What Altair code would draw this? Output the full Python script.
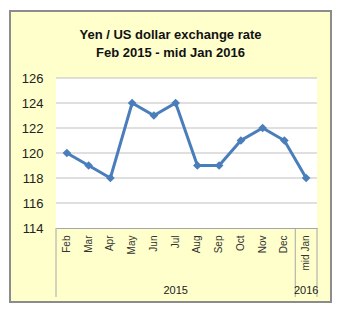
import altair as alt
import pandas as pd

months = ["Feb", "Mar", "Apr", "May", "Jun", "Jul", "Aug", "Sep", "Oct", "Nov", "Dec", "mid Jan"]
rates = [120, 119, 118, 124, 123, 124, 119, 119, 121, 122, 121, 118]
y_ticks = [114, 116, 118, 120, 122, 124, 126]
years = ["2015", "2016"]
year_centers = ["Jul", "mid Jan"]   # category under which each year label is centred
title_lines = ["Yen / US dollar exchange rate", "Feb 2015 - mid Jan 2016"]

W, H = 261, 150
FONT = "Liberation Sans"

df = pd.DataFrame({"month": months, "rate": rates})
grid_df = pd.DataFrame({"rate": y_ticks[1:]})
years_df = pd.DataFrame({"year": years, "month": year_centers})
sep_df = pd.DataFrame({"month": ["Feb", "mid Jan"]})
end_df = pd.DataFrame({"month": ["mid Jan"]})
one = alt.Data(values=[{"k": 1}])

xscale = alt.Scale(type="band", domain=months, paddingInner=0, paddingOuter=0)
yscale = alt.Scale(domain=[114, 126], nice=False, zero=False)

x_axis = alt.Axis(title=None, labelAngle=270, labelFontSize=10, labelFont=FONT,
                  labelColor="#333333", labelPadding=7, ticks=False,
                  domainColor="#A6A6A6", grid=False, zindex=1)
y_axis = alt.Axis(title=None, values=y_ticks, grid=False, domain=False, ticks=False,
                  labelPadding=13, labelFontSize=13, labelFont=FONT,
                  labelColor="#222222", zindex=1)

frame = alt.Chart(one).mark_rect(fill="#FFFFCC", stroke="#8C8C8C", strokeWidth=2).encode(
    x=alt.value(-46), x2=alt.value(275), y=alt.value(-67), y2=alt.value(224)
)
plot_bg = alt.Chart(one).mark_rect(fill="white").encode(
    x=alt.value(0), x2=alt.value(W), y=alt.value(0), y2=alt.value(H)
)
grid = alt.Chart(grid_df).mark_rule(color="#BFBFBF", strokeWidth=1).encode(
    y=alt.Y("rate:Q", scale=yscale, axis=y_axis)
)
seps = alt.Chart(sep_df).mark_rule(color="#A6A6A6", strokeWidth=1).encode(
    x=alt.X("month:N", scale=xscale, axis=x_axis, bandPosition=0),
    y=alt.value(H), y2=alt.value(219)
)
ends = alt.Chart(end_df).mark_rule(color="#A6A6A6", strokeWidth=1).encode(
    x=alt.X("month:N", scale=xscale, axis=x_axis, bandPosition=1),
    y=alt.value(H), y2=alt.value(219)
)

base = alt.Chart(df).encode(
    x=alt.X("month:N", sort=months, scale=xscale, axis=x_axis),
    y=alt.Y("rate:Q", scale=yscale, axis=y_axis),
)
line = base.mark_line(color="#4A7EBB", strokeWidth=3)
pts = base.mark_point(shape="diamond", filled=True, size=75, color="#4A7EBB", opacity=1)

year_txt = alt.Chart(years_df).mark_text(fontSize=11, font=FONT, color="#222222", baseline="middle").encode(
    x=alt.X("month:N", scale=xscale, axis=x_axis),
    y=alt.value(213),
    text="year:N",
)

chart = alt.layer(frame, plot_bg, grid, seps, ends, line, pts, year_txt).properties(
    width=W, height=H,
    title=alt.TitleParams(text=title_lines, fontSize=13, font=FONT, fontWeight="bold",
                          color="#111111", anchor="middle", dx=-16, dy=54, lineHeight=18),
    padding={"left": 56, "top": 78, "right": 24, "bottom": 86},
    autosize=alt.AutoSizeParams(type="none"),
).configure_view(stroke=None).configure(background="white")

chart.save("out.html", embed_options={"renderer": "svg", "actions": False})
